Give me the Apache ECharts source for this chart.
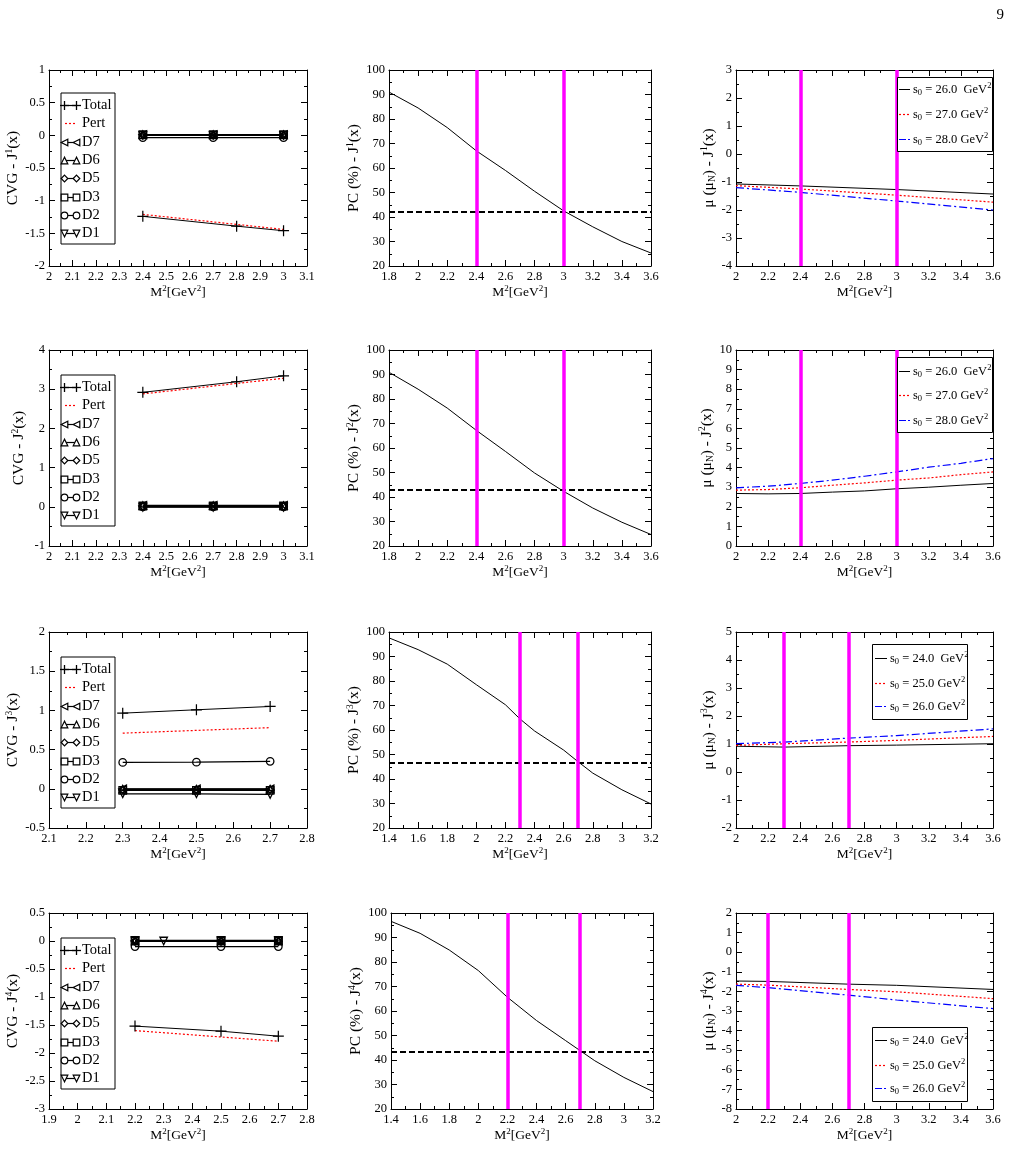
<!DOCTYPE html>
<html><head><meta charset="utf-8">
<script src="https://cdn.jsdelivr.net/npm/echarts@6/dist/echarts.min.js"></script>
<style>html,body{margin:0;padding:0;background:#fff}#c{width:1013px;height:1153px}</style>
</head><body><div id="c"></div>
<script>
// ================= DATA =================
// ---- CVG panels (left column) ----
const cvgLegendNames = ['Total', 'Pert', 'D7', 'D6', 'D5', 'D3', 'D2', 'D1'];

const cvg1TotalX = [2.4, 2.8, 3.0];
const cvg1TotalY = [-1.24, -1.39, -1.46];
const cvg1PertX = [2.4, 3.0];
const cvg1PertY = [-1.21, -1.44];
const cvg1DX = [2.4, 2.7, 3.0];
const cvg1D7 = [0.012, 0.012, 0.012];
const cvg1D6 = [0.008, 0.008, 0.008];
const cvg1D5 = [0.004, 0.004, 0.004];
const cvg1D3 = [0.010, 0.010, 0.010];
const cvg1D2 = [-0.035, -0.035, -0.035];
const cvg1D1 = [0.0, 0.0, 0.0];

const cvg2TotalX = [2.4, 2.8, 3.0];
const cvg2TotalY = [2.92, 3.19, 3.34];
const cvg2PertX = [2.4, 3.0];
const cvg2PertY = [2.88, 3.28];
const cvg2DX = [2.4, 2.7, 3.0];
const cvg2D7 = [0.04, 0.04, 0.04];
const cvg2D6 = [0.03, 0.03, 0.03];
const cvg2D5 = [0.01, 0.01, 0.01];
const cvg2D3 = [0.02, 0.02, 0.02];
const cvg2D2 = [0.0, 0.0, 0.0];
const cvg2D1 = [-0.01, -0.01, -0.01];

const cvg3TotalX = [2.3, 2.5, 2.7];
const cvg3TotalY = [0.965, 1.008, 1.05];
const cvg3PertX = [2.3, 2.7];
const cvg3PertY = [0.71, 0.78];
const cvg3DX = [2.3, 2.5, 2.7];
const cvg3D7 = [0.0, 0.0, 0.0];
const cvg3D6 = [-0.005, -0.005, -0.005];
const cvg3D5 = [-0.01, -0.01, -0.01];
const cvg3D3 = [-0.02, -0.02, -0.02];
const cvg3D2 = [0.336, 0.34, 0.35];
const cvg3D1 = [-0.064, -0.064, -0.072];

const cvg4TotalX = [2.2, 2.5, 2.7];
const cvg4TotalY = [-1.52, -1.61, -1.70];
const cvg4PertX = [2.2, 2.7];
const cvg4PertY = [-1.60, -1.79];
const cvg4DX = [2.2, 2.5, 2.7];
const cvg4D7 = [0.005, 0.005, 0.005];
const cvg4D6 = [0.0, 0.0, 0.0];
const cvg4D5 = [-0.005, -0.005, -0.005];
const cvg4D3 = [0.01, 0.01, 0.01];
const cvg4D2 = [-0.10, -0.10, -0.10];
const cvg4D1X = [2.2, 2.3, 2.5, 2.7];
const cvg4D1 = [0.0, 0.0, 0.0, 0.0];

// ---- PC panels (middle column) ----
const pc1X = [1.8, 2.0, 2.2, 2.4, 2.6, 2.8, 3.0, 3.2, 3.4, 3.6];
const pc1Y = [91, 84.5, 76.5, 67, 59, 50.5, 42.5, 36, 30, 25.3];
const pc1Threshold = 42.3;
const pc1Window = [2.4, 3.0];

const pc2X = [1.8, 2.0, 2.2, 2.4, 2.6, 2.8, 3.0, 3.2, 3.4, 3.6];
const pc2Y = [90.9, 84, 76.3, 67.2, 58.6, 49.8, 42.3, 35.5, 29.7, 24.7];
const pc2Threshold = 42.8;
const pc2Window = [2.4, 3.0];

const pc3X = [1.4, 1.6, 1.8, 2.0, 2.2, 2.3, 2.4, 2.6, 2.7, 2.8, 3.0, 3.2];
const pc3Y = [97.6, 92.8, 86.9, 78.5, 70.3, 64.5, 59.6, 51.8, 47.0, 42.4, 35.6, 29.8];
const pc3Threshold = 46.8;
const pc3Window = [2.3, 2.7];

const pc4X = [1.4, 1.6, 1.8, 2.0, 2.2, 2.4, 2.6, 2.7, 2.8, 3.0, 3.2];
const pc4Y = [96.6, 91.7, 84.9, 76.5, 65.6, 56.1, 47.9, 43.8, 39.7, 32.9, 27.1];
const pc4Threshold = 43.4;
const pc4Window = [2.2, 2.7];

// ---- Magnetic moment panels (right column) ----
const mu1X = [2.0, 2.4, 3.0, 3.6];
const mu1S26 = [-1.07, -1.14, -1.27, -1.43];
const mu1S27 = [-1.13, -1.25, -1.47, -1.72];
const mu1S28 = [-1.20, -1.37, -1.68, -2.00];
const mu1Labels = ['26.0  GeV', '27.0 GeV', '28.0 GeV'];

const mu2X = [2.0, 2.2, 2.4, 2.6, 2.8, 3.0, 3.2, 3.4, 3.6];
const mu2S26 = [2.68, 2.66, 2.68, 2.75, 2.81, 2.92, 3.00, 3.10, 3.19];
const mu2S27 = [2.85, 2.88, 2.97, 3.10, 3.22, 3.36, 3.47, 3.64, 3.78];
const mu2S28 = [2.97, 3.05, 3.19, 3.36, 3.56, 3.78, 4.02, 4.22, 4.46];
const mu2Labels = ['26.0  GeV', '27.0 GeV', '28.0 GeV'];

const mu3X = [2.0, 2.3, 2.7, 3.0, 3.6];
const mu3S24 = [0.92, 0.89, 0.94, 0.96, 1.01];
const mu3S25 = [0.95, 1.01, 1.07, 1.13, 1.27];
const mu3S26 = [1.01, 1.07, 1.21, 1.30, 1.54];
const mu3Labels = ['24.0  GeV', '25.0 GeV', '26.0 GeV'];

const mu4X = [2.0, 2.2, 2.7, 3.0, 3.6];
const mu4S24 = [-1.47, -1.49, -1.63, -1.69, -1.90];
const mu4S25 = [-1.63, -1.68, -1.90, -2.02, -2.37];
const mu4S26 = [-1.69, -1.81, -2.19, -2.44, -2.88];
const mu4Labels = ['24.0  GeV', '25.0 GeV', '26.0 GeV'];
const mu1Window = [2.4, 3.0], mu2Window = [2.4, 3.0], mu3Window = [2.3, 2.7], mu4Window = [2.2, 2.7];

// ---- axis ranges [min, max, interval] ----
const cvgXRanges = [[2, 3.1, 0.1], [2, 3.1, 0.1], [2.1, 2.8, 0.1], [1.9, 2.8, 0.1]];
const cvgYRanges = [[-2, 1, 0.5], [-1, 4, 1], [-0.5, 2, 0.5], [-3, 0.5, 0.5]];
const pcXRanges = [[1.8, 3.6, 0.2], [1.8, 3.6, 0.2], [1.4, 3.2, 0.2], [1.4, 3.2, 0.2]];
const pcYRange = [20, 100, 10];
const muXRange = [2, 3.6, 0.2];
const muYRanges = [[-4, 3, 1], [0, 10, 1], [-2, 5, 1], [-8, 2, 1]];

// ================= BUILD =================
const FF = "'Liberation Serif','Times New Roman',serif";
const zip = (xs, ys) => xs.map((x, i) => [x, ys[i]]);

const colLeft = [[49, 49, 49, 49], [389, 389, 389, 391], [736, 736, 736, 736]];
const colW = [258, 262, 257];
const rowTop = [70, 350, 632, 913];
const PH = 196;

const richName = {
  t: { fontFamily: FF, fontSize: 15.5, color: '#000', lineHeight: 18 },
  sup: { fontFamily: FF, fontSize: 9.5, color: '#000', lineHeight: 8, verticalAlign: 'top' },
  sub: { fontFamily: FF, fontSize: 9.5, color: '#000', lineHeight: 9, verticalAlign: 'bottom' }
};
const richX = {
  t: { fontFamily: FF, fontSize: 13.5, color: '#000', lineHeight: 18 },
  sup: { fontFamily: FF, fontSize: 9, color: '#000', lineHeight: 8, verticalAlign: 'top' }
};

const option = { animation: false, backgroundColor: '#fff', grid: [], xAxis: [], yAxis: [], series: [], graphic: [] };

function addPanel(row, col, xr, yr, yName, yGap) {
  const gi = option.grid.length;
  option.grid.push({ left: colLeft[col][row], top: rowTop[row], width: colW[col], height: PH });
  const line = { show: true, onZero: false, lineStyle: { color: '#000', width: 1 } };
  const tick = { show: true, inside: true, length: 6, lineStyle: { color: '#000', width: 1 } };
  const minor = { show: true, splitNumber: 2, length: 3, lineStyle: { color: '#000', width: 1 } };
  const common = { type: 'value', gridIndex: gi, axisLine: line, axisTick: tick, minorTick: minor,
    splitLine: { show: false }, minorSplitLine: { show: false } };
  option.xAxis.push(Object.assign({}, common, { min: xr[0], max: xr[1], interval: xr[2], position: 'bottom',
    axisLabel: { color: '#000', fontFamily: FF, fontSize: 12.5, margin: 4 },
    name: '{t|M}{sup|2}{t|[GeV}{sup|2}{t|]}', nameLocation: 'middle', nameGap: 17,
    nameTextStyle: { rich: richX } }));
  option.xAxis.push(Object.assign({}, common, { min: xr[0], max: xr[1], interval: xr[2], position: 'top',
    axisLabel: { show: false } }));
  option.yAxis.push(Object.assign({}, common, { min: yr[0], max: yr[1], interval: yr[2], position: 'left',
    axisLabel: { color: '#000', fontFamily: FF, fontSize: 12.5, margin: 4 },
    name: yName, nameLocation: 'middle', nameRotate: 90, nameGap: yGap,
    nameTextStyle: { rich: richName } }));
  option.yAxis.push(Object.assign({}, common, { min: yr[0], max: yr[1], interval: yr[2], position: 'right',
    axisLabel: { show: false } }));
  return 2 * gi;
}

const PLUS = 'path://M4,0H5V4H9V5H5V9H4V5H0V4H4Z';
const dMarkers = {
  D7: { symbol: 'triangle', rot: 90 }, D6: { symbol: 'triangle', rot: 0 }, D5: { symbol: 'diamond', rot: 0 },
  D3: { symbol: 'rect', rot: 0 }, D2: { symbol: 'circle', rot: 0 }, D1: { symbol: 'triangle', rot: 180 }
};

function cvgPanel(row, jx, d) {
  const ax = addPanel(row, 0, cvgXRanges[row], cvgYRanges[row], `{t|CVG - J}{sup|${jx}}{t|(x)}`, 21);
  const base = { type: 'line', xAxisIndex: ax, yAxisIndex: ax, silent: true };
  ['D7', 'D6', 'D5', 'D3', 'D2', 'D1'].forEach(k => {
    option.series.push(Object.assign({}, base, { name: k, data: zip(d[k + 'X'] || d.DX, d[k]),
      symbol: dMarkers[k].symbol, symbolRotate: dMarkers[k].rot, symbolSize: 7.5, showSymbol: true,
      lineStyle: { color: '#000', width: 1.2 },
      itemStyle: { color: 'rgba(0,0,0,0)', borderColor: '#000', borderWidth: 1.3 } }));
  });
  option.series.push(Object.assign({}, base, { name: 'Pert', data: zip(d.PertX, d.PertY), symbol: 'none',
    lineStyle: { color: '#ff0000', width: 1.2, type: [2, 2] } }));
  option.series.push(Object.assign({}, base, { name: 'Total', data: zip(d.TotalX, d.TotalY), symbol: PLUS,
    symbolSize: 11, showSymbol: true, lineStyle: { color: '#000', width: 1 }, itemStyle: { color: '#000' } }));
}

function pcPanel(row, jx, xs, ys, thr, win) {
  const ax = addPanel(row, 1, pcXRanges[row], pcYRange, `{t|PC (%) - J}{sup|${jx}}{t|(x)}`, 17);
  option.series.push({ type: 'line', xAxisIndex: ax, yAxisIndex: ax, silent: true, data: zip(xs, ys),
    symbol: 'none', lineStyle: { color: '#000', width: 1 },
    markLine: { silent: true, symbol: 'none', label: { show: false }, animation: false,
      data: [
        { yAxis: thr, lineStyle: { color: '#000', width: 2, type: [6, 3] } },
        { xAxis: win[0], lineStyle: { color: '#ff00ff', width: 3.5, type: 'solid' } },
        { xAxis: win[1], lineStyle: { color: '#ff00ff', width: 3.5, type: 'solid' } }
      ] } });
}

function muPanel(row, jx, xs, a, b, c, win) {
  const ax = addPanel(row, 2, muXRange, muYRanges[row], `{t|μ (μ}{sub|N}{t|) - J}{sup|${jx}}{t|(x)}`, 16);
  const base = { type: 'line', xAxisIndex: ax, yAxisIndex: ax, silent: true, symbol: 'none' };
  option.series.push(Object.assign({}, base, { data: zip(xs, a), lineStyle: { color: '#000', width: 1 },
    markLine: { silent: true, symbol: 'none', label: { show: false }, animation: false,
      data: [
        { xAxis: win[0], lineStyle: { color: '#ff00ff', width: 3.5, type: 'solid' } },
        { xAxis: win[1], lineStyle: { color: '#ff00ff', width: 3.5, type: 'solid' } }
      ] } }));
  option.series.push(Object.assign({}, base, { data: zip(xs, b), lineStyle: { color: '#ff0000', width: 1.2, type: [2, 2] } }));
  option.series.push(Object.assign({}, base, { data: zip(xs, c), lineStyle: { color: '#0000ff', width: 1.2, type: [8, 3, 2, 3] } }));
}

cvgPanel(0, '1', { TotalX: cvg1TotalX, TotalY: cvg1TotalY, PertX: cvg1PertX, PertY: cvg1PertY, DX: cvg1DX,
  D7: cvg1D7, D6: cvg1D6, D5: cvg1D5, D3: cvg1D3, D2: cvg1D2, D1: cvg1D1 });
pcPanel(0, '1', pc1X, pc1Y, pc1Threshold, pc1Window);
muPanel(0, '1', mu1X, mu1S26, mu1S27, mu1S28, mu1Window);

cvgPanel(1, '2', { TotalX: cvg2TotalX, TotalY: cvg2TotalY, PertX: cvg2PertX, PertY: cvg2PertY, DX: cvg2DX,
  D7: cvg2D7, D6: cvg2D6, D5: cvg2D5, D3: cvg2D3, D2: cvg2D2, D1: cvg2D1 });
pcPanel(1, '2', pc2X, pc2Y, pc2Threshold, pc2Window);
muPanel(1, '2', mu2X, mu2S26, mu2S27, mu2S28, mu2Window);

cvgPanel(2, '3', { TotalX: cvg3TotalX, TotalY: cvg3TotalY, PertX: cvg3PertX, PertY: cvg3PertY, DX: cvg3DX,
  D7: cvg3D7, D6: cvg3D6, D5: cvg3D5, D3: cvg3D3, D2: cvg3D2, D1: cvg3D1 });
pcPanel(2, '3', pc3X, pc3Y, pc3Threshold, pc3Window);
muPanel(2, '3', mu3X, mu3S24, mu3S25, mu3S26, mu3Window);

cvgPanel(3, '4', { TotalX: cvg4TotalX, TotalY: cvg4TotalY, PertX: cvg4PertX, PertY: cvg4PertY, DX: cvg4DX,
  D7: cvg4D7, D6: cvg4D6, D5: cvg4D5, D3: cvg4D3, D2: cvg4D2, D1X: cvg4D1X, D1: cvg4D1 });
pcPanel(3, '4', pc4X, pc4Y, pc4Threshold, pc4Window);
muPanel(3, '4', mu4X, mu4S24, mu4S25, mu4S26, mu4Window);

// ---------- legends (graphic) ----------
const G = option.graphic;
const stroke = { stroke: '#000', fill: '#fff', lineWidth: 1.2 };
function marker(kind, cx, cy) {
  const s = 3.3;
  if (kind === 'Total') {
    G.push({ type: 'line', z: 101, shape: { x1: cx - 4.5, y1: cy, x2: cx + 4.5, y2: cy }, style: { stroke: '#000', lineWidth: 1.3 } });
    G.push({ type: 'line', z: 101, shape: { x1: cx, y1: cy - 4.5, x2: cx, y2: cy + 4.5 }, style: { stroke: '#000', lineWidth: 1.3 } });
    return;
  }
  let pts = null;
  if (kind === 'D7') pts = [[cx - s, cy], [cx + s, cy - s], [cx + s, cy + s]];
  if (kind === 'D6') pts = [[cx, cy - s], [cx - s, cy + s], [cx + s, cy + s]];
  if (kind === 'D5') pts = [[cx, cy - s], [cx + s, cy], [cx, cy + s], [cx - s, cy]];
  if (kind === 'D1') pts = [[cx, cy + s], [cx - s, cy - s], [cx + s, cy - s]];
  if (pts) { G.push({ type: 'polygon', z: 101, shape: { points: pts }, style: stroke }); return; }
  if (kind === 'D3') { G.push({ type: 'rect', z: 101, shape: { x: cx - s, y: cy - s, width: 2 * s, height: 2 * s }, style: stroke }); return; }
  if (kind === 'D2') { G.push({ type: 'circle', z: 101, shape: { cx, cy, r: s }, style: stroke }); }
}
const leftLegendTops = [93, 375, 657, 938];
leftLegendTops.forEach(top => {
  G.push({ type: 'rect', z: 100, shape: { x: 61, y: top, width: 54, height: 151 }, style: { fill: '#fff', stroke: '#000', lineWidth: 1 } });
  cvgLegendNames.forEach((name, k) => {
    const cy = Math.round(top + 12 + k * 18.3) + 0.5;
    if (name === 'Pert') {
      G.push({ type: 'line', z: 101, shape: { x1: 65, y1: cy, x2: 77, y2: cy }, style: { stroke: '#ff0000', lineWidth: 1.2, lineDash: [2, 2] } });
    } else {
      G.push({ type: 'line', z: 101, shape: { x1: 64, y1: cy, x2: 77, y2: cy }, style: { stroke: '#000', lineWidth: 1.2 } });
      marker(name, 64.5, cy);
      marker(name, 76.5, cy);
    }
    G.push({ type: 'text', z: 101, x: 82, y: cy, style: { text: name, fontFamily: FF, fontSize: 14.5, fill: '#000', verticalAlign: 'middle', textAlign: 'left' } });
  });
});

const legRich = {
  t: { fontFamily: FF, fontSize: 12.5, fill: '#000', color: '#000', lineHeight: 16 },
  sup: { fontFamily: FF, fontSize: 8.5, fill: '#000', color: '#000', lineHeight: 7, verticalAlign: 'top' },
  sub: { fontFamily: FF, fontSize: 8.5, fill: '#000', color: '#000', lineHeight: 8, verticalAlign: 'bottom' }
};
const muLegendBoxes = [
  { left: 897, top: 77, w: 95, h: 74, off: [12, 37, 62], l1: 899, l2: 910, tx: 913, labels: mu1Labels },
  { left: 897, top: 357, w: 95, h: 75, off: [14, 38, 63], l1: 899, l2: 910, tx: 913, labels: mu2Labels },
  { left: 872, top: 644, w: 95, h: 75, off: [14, 39, 62], l1: 875, l2: 887, tx: 890, labels: mu3Labels },
  { left: 872, top: 1027, w: 95, h: 74, off: [13, 38, 61], l1: 875, l2: 887, tx: 890, labels: mu4Labels }
];
const muStyles = [
  { stroke: '#000', lineWidth: 1 },
  { stroke: '#ff0000', lineWidth: 1.2, lineDash: [2, 2] },
  { stroke: '#0000ff', lineWidth: 1.2, lineDash: [7, 2, 2, 2] }
];
muLegendBoxes.forEach(b => {
  G.push({ type: 'rect', z: 100, shape: { x: b.left + 0.5, y: b.top + 0.5, width: b.w, height: b.h }, style: { fill: '#fff', stroke: '#000', lineWidth: 1 } });
  b.labels.forEach((lab, k) => {
    const cy = b.top + b.off[k] + 0.5;
    G.push({ type: 'line', z: 101, shape: { x1: b.l1, y1: cy, x2: b.l2, y2: cy }, style: muStyles[k] });
    G.push({ type: 'text', z: 101, x: b.tx, y: cy, style: { text: `{t|s}{sub|0}{t| = ${lab}}{sup|2}`, rich: legRich, verticalAlign: 'middle', textAlign: 'left' } });
  });
});

// page number
G.push({ type: 'text', z: 101, x: 1004, y: 15, style: { text: '9', fontFamily: FF, fontSize: 15, fill: '#000', textAlign: 'right', verticalAlign: 'middle' } });

const chart = echarts.init(document.getElementById('c'), null, { renderer: 'canvas' });
chart.setOption(option);
</script>
</body></html>
